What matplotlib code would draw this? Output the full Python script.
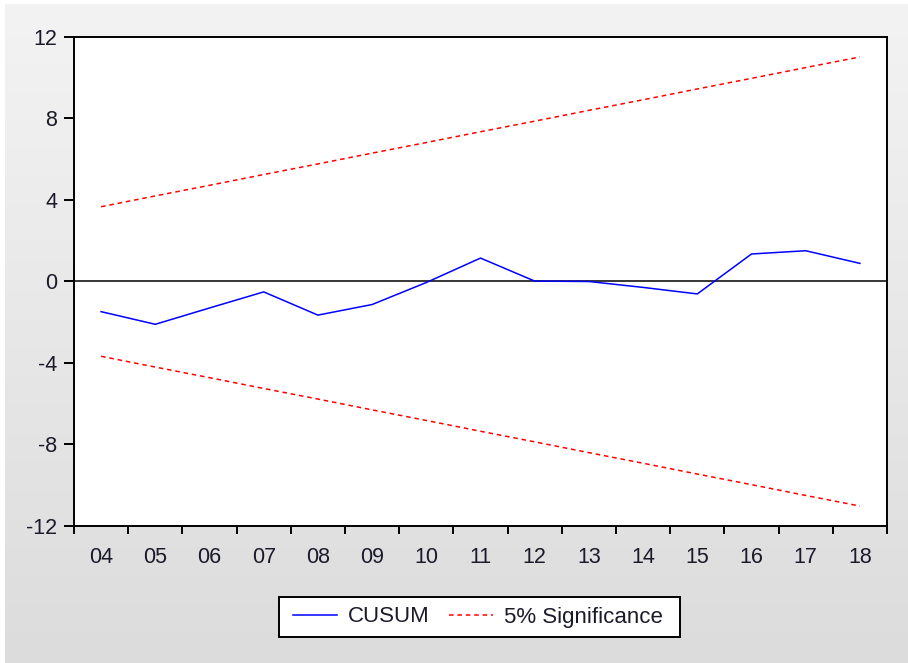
import matplotlib
matplotlib.use("Agg")
import matplotlib.pyplot as plt
import numpy as np
from matplotlib.ticker import FixedLocator
from matplotlib.patches import Rectangle

plt.rcParams['font.family'] = ['Liberation Sans', 'DejaVu Sans']

years = ["04", "05", "06", "07", "08", "09", "10", "11", "12", "13", "14", "15", "16", "17", "18"]
cusum = [-1.48, -2.10, -1.30, -0.51, -1.65, -1.13, -0.05, 1.15, 0.02, 0.00, -0.29, -0.61, 1.35, 1.51, 0.89]
upper = [3.67, 4.20, 4.72, 5.25, 5.77, 6.30, 6.82, 7.35, 7.87, 8.40, 8.92, 9.45, 9.97, 10.50, 11.02]
lower = [-3.67, -4.20, -4.72, -5.25, -5.77, -6.30, -6.82, -7.35, -7.87, -8.40, -8.92, -9.45, -9.97, -10.50, -11.02]
yticks = [-12, -8, -4, 0, 4, 8, 12]

W, H = 908, 663
fig = plt.figure(figsize=(W / 100, H / 100), dpi=100, facecolor='white')

# gradient background
bg = fig.add_axes([5 / W, 0, 1 - 5 / W, 1 - 4 / H])
grad = np.linspace(0, 1, 256).reshape(-1, 1)
bg.imshow(grad, aspect='auto', cmap=matplotlib.colors.LinearSegmentedColormap.from_list(
    'g', ['#f3f3f3', '#dcdcdc']), extent=[0, 1, 0, 1], origin='upper')
bg.set_axis_off()

ax = fig.add_axes([74 / W, 1 - 526 / H, (887 - 74) / W, (526 - 37) / H])
ax.set_facecolor('white')
x = np.arange(len(years))

ax.axhline(0, color='black', lw=1.1, zorder=1)
ax.plot(x, cusum, color='#0000ff', lw=1.1, label='CUSUM', zorder=3)
ax.plot(x, upper, color='#ff0000', lw=1.1, ls=(0, (3, 2.5)), label='5% Significance', zorder=2)
ax.plot(x, lower, color='#ff0000', lw=1.1, ls=(0, (3, 2.5)), zorder=2)

ax.set_xlim(-0.5, len(years) - 0.5)
ax.set_ylim(-12, 12)
ax.set_yticks(yticks)
ax.set_yticklabels([str(v) for v in yticks])
ax.set_xticks(x)
ax.set_xticklabels(years)
ax.xaxis.set_minor_locator(FixedLocator(np.arange(-0.5, len(years), 1.0)))

ax.tick_params(axis='x', which='major', length=0, pad=15, labelsize=15.5, labelcolor='#1a1a2a')
ax.tick_params(axis='x', which='minor', length=6, width=1.4, direction='out', color='black')
ax.tick_params(axis='y', which='major', length=7, width=1.4, direction='out', pad=5,
               labelsize=15.5, labelcolor='#1a1a2a')
for s in ax.spines.values():
    s.set_linewidth(1.4)
    s.set_color('black')

# legend box
fig.patches.append(Rectangle((279 / W, 1 - 637 / H), (680 - 279) / W, (637 - 597) / H,
                             transform=fig.transFigure, facecolor='white',
                             edgecolor='black', linewidth=1.4, zorder=5))
leg = fig.legend(loc='center', bbox_to_anchor=(478 / W, 1 - 617 / H), ncol=2,
                 fontsize=16, frameon=False, handlelength=2.0,
                 handletextpad=0.5, columnspacing=0.85, borderpad=0.3,
                 borderaxespad=0)
leg.set_zorder(6)
for t in leg.get_texts():
    t.set_color('#1a1a2a')

fig.savefig('out.png', dpi=100, facecolor=fig.get_facecolor())
